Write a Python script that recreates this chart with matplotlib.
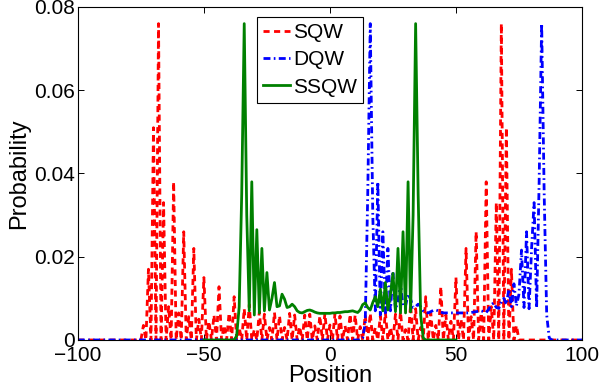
import numpy as np
import matplotlib
matplotlib.use("Agg")
import matplotlib.pyplot as plt
from matplotlib.ticker import FuncFormatter

plt.rcParams['font.family'] = ['Liberation Sans', 'DejaVu Sans']

# positions on the line
positions = np.arange(-100, 101)

# SQW: only even sites are occupied, values for even positions -74 .. 74
sqw_even_start = -74
sqw_even = [0.0035, 0.017, 0.051, 0.076, 0.033, 0.008, 0.038, 0.0065, 0.026, 0.0056,
            0.022, 0.005, 0.015, 0.0045, 0.006, 0.0128, 0.0035, 0.0065, 0.0104, 0.003,
            0.0075, 0.0085, 0.0025, 0.0068, 0.0062, 0.003, 0.0066, 0.0058, 0.003, 0.0064,
            0.0060, 0.0032, 0.0060, 0.0062, 0.0034, 0.0058, 0.0064,
            0.0036,
            0.0064, 0.0058, 0.0034, 0.0062, 0.0060, 0.0032, 0.0060, 0.0064, 0.003, 0.0058,
            0.0066, 0.003, 0.0062, 0.0068, 0.0025, 0.0085, 0.0075, 0.003, 0.0104, 0.0065,
            0.0035, 0.0128, 0.006, 0.0045, 0.015, 0.005, 0.022, 0.0056, 0.026, 0.0065,
            0.038, 0.008, 0.033, 0.076, 0.051, 0.017, 0.0035]

# DQW: values for positions 13 .. 87
dqw_start = 13
dqw_vals = [0.0005, 0.004, 0.035, 0.076, 0.030, 0.007, 0.038, 0.006, 0.026, 0.0065,
            0.022, 0.007, 0.0165, 0.0072, 0.0095, 0.0138, 0.0080, 0.0082, 0.0110, 0.0098,
            0.0078, 0.0080, 0.0086, 0.0080, 0.0070, 0.0066, 0.0065, 0.0068, 0.0071, 0.0072,
            0.0070, 0.0067, 0.0065, 0.0065, 0.0065, 0.0065, 0.0065, 0.0065, 0.0065, 0.0065,
            0.0065, 0.0065, 0.0065, 0.0066, 0.0067, 0.0068, 0.0069, 0.0070, 0.0068, 0.0066,
            0.0074, 0.0085, 0.0089, 0.0078, 0.0076, 0.0092, 0.0100, 0.0085, 0.0122, 0.0080,
            0.0135, 0.0082, 0.0110, 0.0216, 0.0078, 0.026, 0.0075, 0.022, 0.033, 0.0077,
            0.038, 0.076, 0.035, 0.006, 0.0005]

# SSQW: defined on -50 .. 50, nonzero values for positions -37 .. 37
ssqw_range = (-50, 50)
ssqw_start = -37
ssqw_vals = [0.001, 0.008, 0.035, 0.076, 0.030, 0.007, 0.038, 0.006, 0.0265, 0.0065,
             0.022, 0.007, 0.0162, 0.0072, 0.0100, 0.0138, 0.0080, 0.0082, 0.0110, 0.0098,
             0.0078, 0.0080, 0.0086, 0.0080, 0.0070, 0.0066, 0.0065, 0.0068, 0.0071, 0.0072,
             0.0070, 0.0067, 0.0065, 0.0064, 0.0064, 0.0064, 0.0064, 0.0064,
             0.0065, 0.0065, 0.0066, 0.0066, 0.0067, 0.0068, 0.0068, 0.0069, 0.0070, 0.0068,
             0.0066, 0.0072, 0.0085, 0.0089, 0.0078, 0.0072, 0.0090, 0.0104, 0.0080, 0.0122,
             0.0070, 0.0138, 0.0072, 0.0110, 0.0160, 0.0068, 0.022, 0.0065, 0.026, 0.0065,
             0.038, 0.0068, 0.030, 0.076, 0.035, 0.006, 0.0005]

# full arrays
sqw = np.zeros(len(positions))
i0 = sqw_even_start - positions[0]
sqw[i0:i0 + 2 * len(sqw_even):2] = sqw_even

dqw = np.zeros(len(positions))
j0 = dqw_start - positions[0]
dqw[j0:j0 + len(dqw_vals)] = dqw_vals

ssqw_pos = np.arange(ssqw_range[0], ssqw_range[1] + 1)
ssqw = np.zeros(len(ssqw_pos))
k0 = ssqw_start - ssqw_range[0]
ssqw[k0:k0 + len(ssqw_vals)] = ssqw_vals

fig = plt.figure(figsize=(5.99, 3.92), dpi=100)
ax = fig.add_axes([0.130, 0.1327, 0.8416, 0.8495])

ax.plot(positions, sqw, color='red', lw=2, linestyle=(0, (2.2, 1.6)), label='SQW')
ax.plot(positions, dqw, color='blue', lw=2, linestyle=(0, (2.5, 1.2, 0.6, 1.2)), label='DQW')
ax.plot(ssqw_pos, ssqw, color='green', lw=2, label='SSQW')

ax.set_xlim(-100, 100)
ax.set_ylim(0, 0.08)
ax.set_xticks([-100, -50, 0, 50, 100])
ax.set_yticks([0, 0.02, 0.04, 0.06, 0.08])
ax.yaxis.set_major_formatter(FuncFormatter(lambda v, p: f"{v:g}"))
ax.tick_params(direction='in', top=True, right=True, length=4, width=0.7, labelsize=15,
               pad=2)
ax.tick_params(axis='x', pad=4)
for s in ax.spines.values():
    s.set_linewidth(0.8)

ax.set_xlabel('Position', fontsize=17, labelpad=0)
ax.set_ylabel('Probability', fontsize=17, labelpad=3)

leg = ax.legend(loc='upper left', bbox_to_anchor=(0.3546, 0.971), borderaxespad=0,
                fontsize=15, fancybox=False, framealpha=1, edgecolor='black',
                handlelength=1.3, handletextpad=0.15, borderpad=0.3, labelspacing=0.4)
leg.get_frame().set_linewidth(0.8)

fig.savefig('out.png', dpi=100)
